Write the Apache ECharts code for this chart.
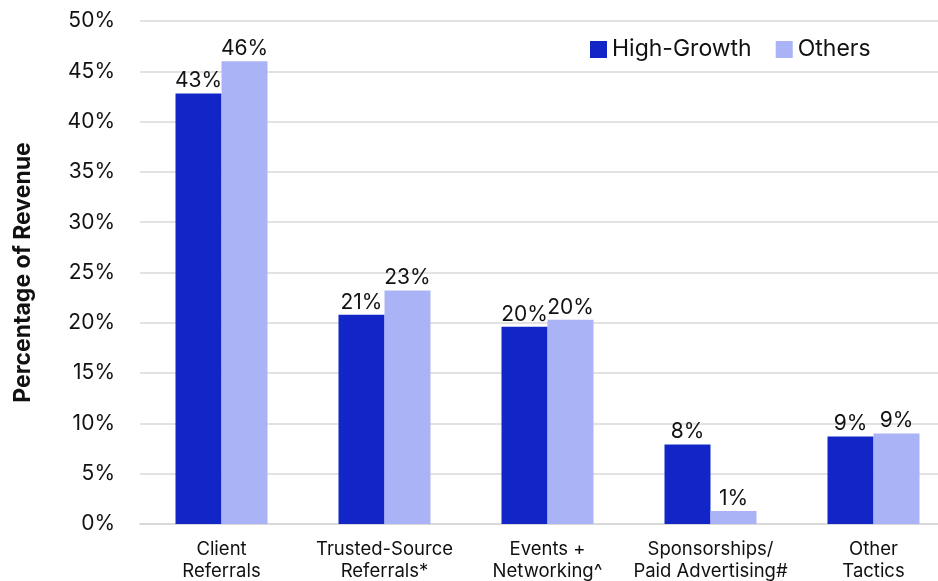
<!DOCTYPE html>
<html><head><meta charset="utf-8">
<script src="https://cdn.jsdelivr.net/npm/echarts@6/dist/echarts.min.js"></script>
<style>html,body{margin:0;padding:0;background:#fff}#c{width:938px;height:581px}</style>
</head><body><div id="c"></div>
<script>
const categories = ['Client\nReferrals','Trusted-Source\nReferrals*','Events +\nNetworking^','Sponsorships/\nPaid Advertising#','Other\nTactics'];
const highGrowth = [42.8, 20.8, 19.6, 7.9, 8.7];
const others = [46.0, 23.2, 20.3, 1.3, 9.0];
const yTicks = [0,5,10,15,20,25,30,35,40,45,50];
const FONT = 'Inter, "Noto Sans", sans-serif';
const chart = echarts.init(document.getElementById('c'));
const lbl = {show:true, position:'top', distance:2, fontSize:21, color:'#111', fontFamily:FONT,
  formatter: p => Math.round(p.value) + '%'};
chart.setOption({
  animation:false,
  grid:{left:140, width:815, top:21, bottom:57, containLabel:false, outerBoundsMode:'none'},
  legend:{top:33, left:585, itemWidth:17, itemHeight:17, itemGap:24, icon:'rect',
    textStyle:{fontSize:23, color:'#111', fontFamily:FONT}, data:['High-Growth','Others']},
  xAxis:{type:'category', data:categories, axisTick:{show:false},
    axisLine:{lineStyle:{color:'#d9d9d9', width:2}},
    axisLabel:{fontSize:18.5, color:'#111', fontFamily:FONT, lineHeight:22, margin:14, interval:0}},
  yAxis:{type:'value', min:0, max:50, interval:5,
    name:'Percentage of Revenue', nameLocation:'middle', nameGap:105, nameRotate:90,
    nameTextStyle:{fontSize:23, fontWeight:'bold', color:'#111', fontFamily:FONT},
    axisLabel:{fontSize:21, color:'#111', fontFamily:FONT, margin:25, formatter: v => yTicks.includes(v) ? v + '%' : ''},
    splitLine:{lineStyle:{color:'#d9d9d9', width:1.5}}},
  series:[
    {name:'High-Growth', type:'bar', data:highGrowth, barWidth:46, barGap:'0%', itemStyle:{color:'#1226c8'}, label:lbl},
    {name:'Others', type:'bar', data:others, barWidth:46, itemStyle:{color:'#a9b3f5'}, label:lbl}
  ]
});
</script></body></html>
